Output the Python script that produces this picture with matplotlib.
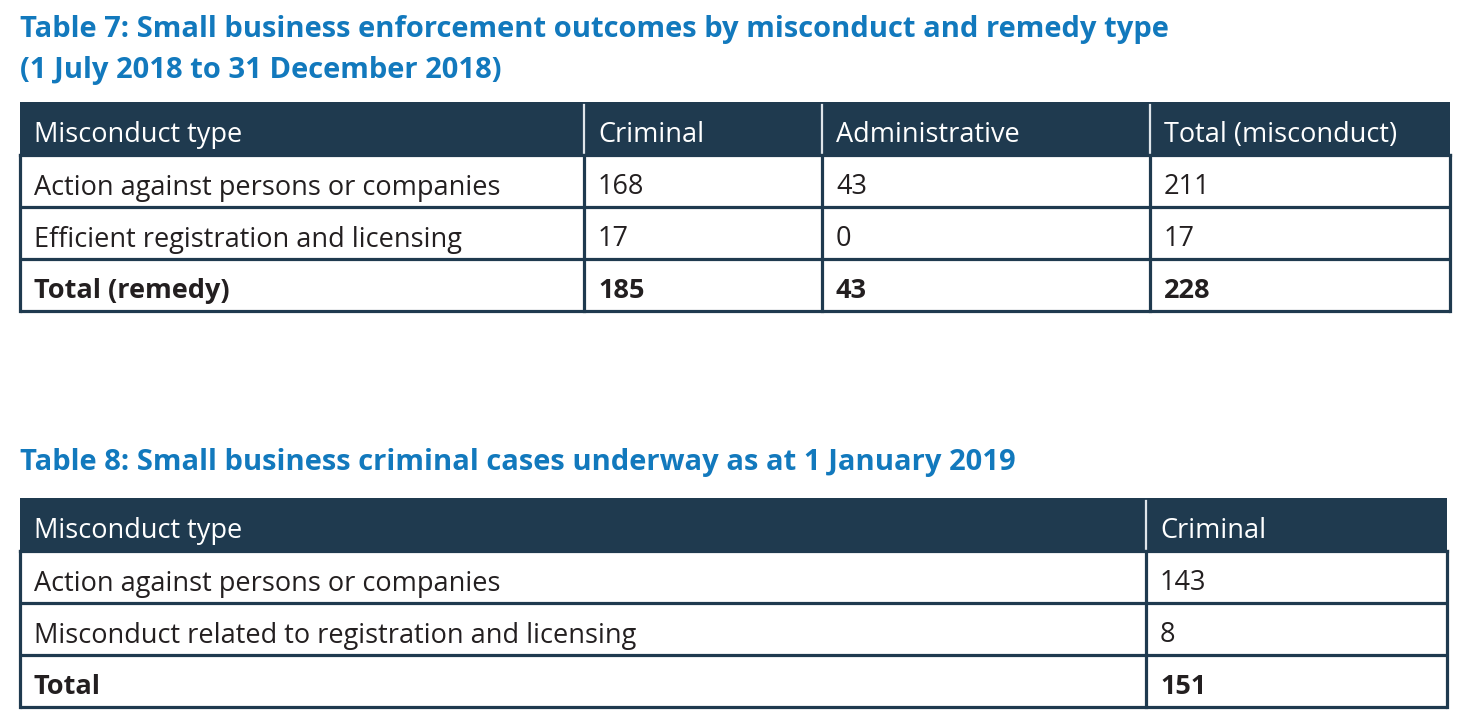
import matplotlib
matplotlib.use("Agg")
import matplotlib.pyplot as plt
from matplotlib.patches import Rectangle

# ---------------- data ----------------
t7_title = ["Table 7: Small business enforcement outcomes by misconduct and remedy type",
            "(1 July 2018 to 31 December 2018)"]
t7_columns = ["Misconduct type", "Criminal", "Administrative", "Total (misconduct)"]
t7_rows = ["Action against persons or companies", "Efficient registration and licensing", "Total (remedy)"]
t7_criminal = [168, 17, 185]
t7_admin = [43, 0, 43]
t7_total = [211, 17, 228]

t8_title = ["Table 8: Small business criminal cases underway as at 1 January 2019"]
t8_columns = ["Misconduct type", "Criminal"]
t8_rows = ["Action against persons or companies", "Misconduct related to registration and licensing", "Total"]
t8_criminal = [143, 8, 151]

# ---------------- style ----------------
NAVY = "#1f3a4f"
BLUE = "#1279bd"
TXT = "#231f20"
FONT = "Open Sans"
HEAVY = "bold"

fig = plt.figure(figsize=(14.71, 7.27), dpi=100)
ax = fig.add_axes([0, 0, 1, 1])
ax.set_xlim(0, 1471)
ax.set_ylim(727, 0)
ax.axis("off")
renderer = fig.canvas.get_renderer()


def fit_size(s, target_px, weight, base=18):
    t = ax.text(0, 0, s, fontsize=base, family=FONT, fontweight=weight)
    w = t.get_window_extent(renderer).width
    t.remove()
    return base * target_px / w


TITLE_SIZE = fit_size(t7_title[0], 1152, HEAVY)
BODY_SIZE = fit_size(t8_rows[1], 601, "normal")


def draw_title(lines, baseline0, step=41):
    for i, line in enumerate(lines):
        ax.text(20, baseline0 + i * step, line, color=BLUE, fontsize=TITLE_SIZE,
                fontweight=HEAVY, family=FONT, va="baseline", ha="left")


def draw_table(columns, body, col_edges, top, head_h=53, row_h=52):
    n_rows = len(body)
    left, right = col_edges[0], col_edges[-1]
    bottom = top + head_h + n_rows * row_h
    ax.add_patch(Rectangle((left, top), right - left, head_h, facecolor=NAVY,
                           edgecolor="none", zorder=1))
    for j, c in enumerate(columns):
        ax.text(col_edges[j] + 14, top + 40, c, color="white", fontsize=BODY_SIZE,
                family=FONT, va="baseline", ha="left", zorder=3)
    for x in col_edges[1:-1]:
        ax.plot([x, x], [top + 3, top + head_h], color="#dfe5ea", lw=1.6, zorder=2)
    for i, row in enumerate(body):
        y0 = top + head_h + i * row_h
        bold = i == n_rows - 1
        for j, val in enumerate(row):
            ax.text(col_edges[j] + 14, y0 + 39.5, str(val), color=TXT, fontsize=BODY_SIZE,
                    family=FONT, fontweight=HEAVY if bold else "normal",
                    va="baseline", ha="left", zorder=3)
        ax.plot([left, right], [y0 + row_h, y0 + row_h], color=NAVY, lw=2.3, zorder=2,
                solid_capstyle="butt")
    ax.plot([left, right], [top + head_h, top + head_h], color=NAVY, lw=2.3, zorder=2)
    for x in col_edges:
        ax.plot([x, x], [top + head_h, bottom], color=NAVY, lw=2.3, zorder=2,
                solid_capstyle="projecting")


draw_title(t7_title, 37)
t7_body = [[r, a, b, c] for r, a, b, c in zip(t7_rows, t7_criminal, t7_admin, t7_total)]
draw_table(t7_columns, t7_body, [20, 584, 822, 1150, 1450], 102)

draw_title(t8_title, 470)
t8_body = [[r, a] for r, a in zip(t8_rows, t8_criminal)]
draw_table(t8_columns, t8_body, [20, 1146, 1447], 498)

fig.savefig("out.png", dpi=100, facecolor="white")
